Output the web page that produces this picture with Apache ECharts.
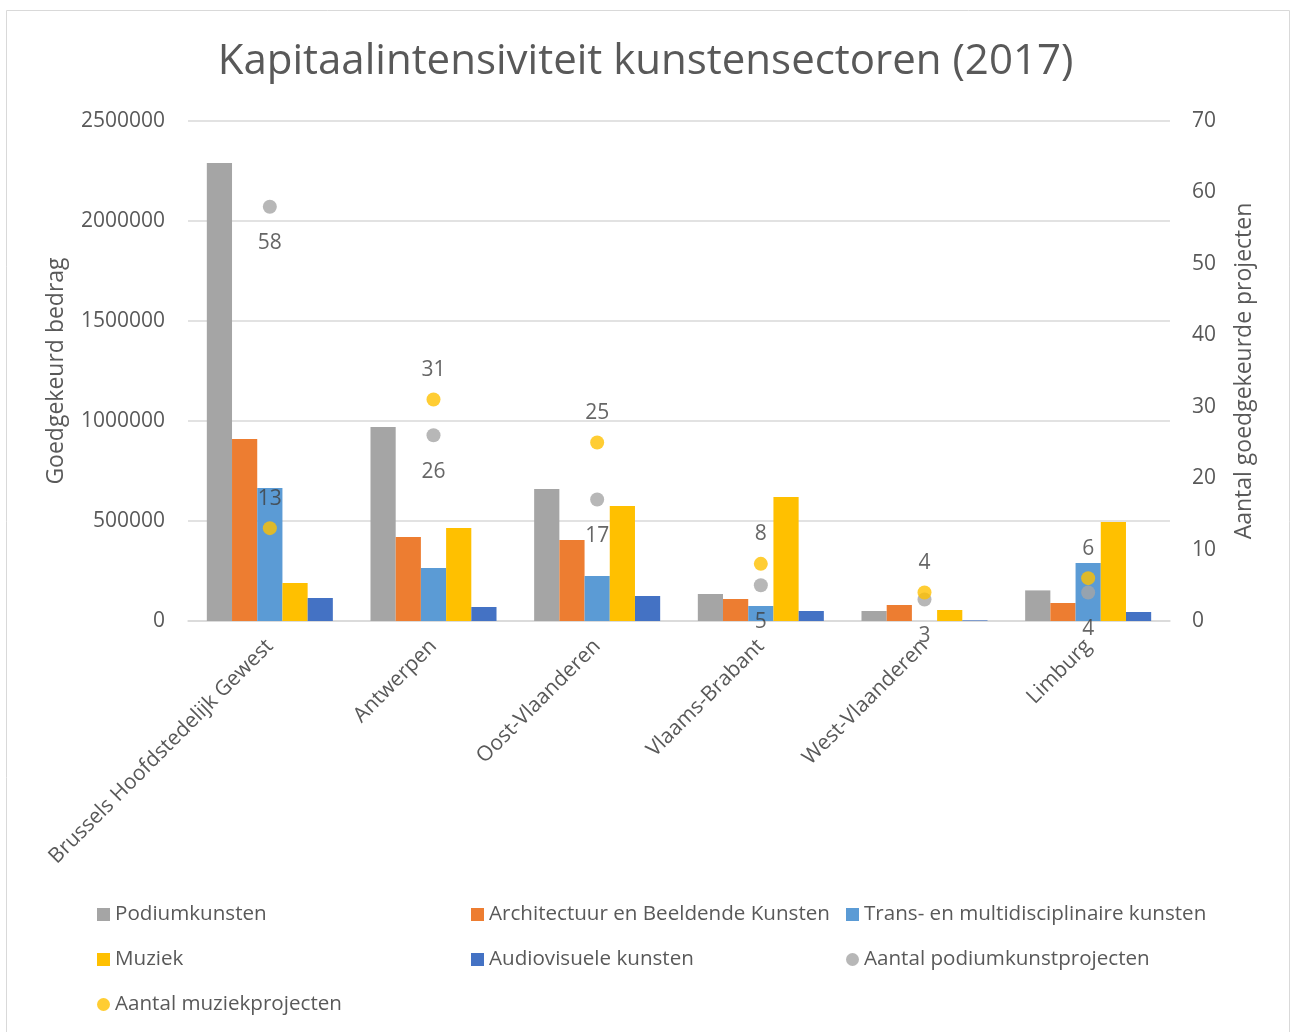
<!DOCTYPE html>
<html><head><meta charset="utf-8">
<script src="https://cdn.jsdelivr.net/npm/echarts@6/dist/echarts.min.js"></script>
<style>html,body{margin:0;padding:0;background:#fff}#c{width:1291px;height:1032px}</style>
</head><body><div id="c"></div>
<script>
const categories = ['Brussels Hoofdstedelijk Gewest','Antwerpen','Oost-Vlaanderen','Vlaams-Brabant','West-Vlaanderen','Limburg'];
const podiumkunsten = [2290000, 970000, 660000, 135000, 50000, 153000];
const architectuur = [910000, 420000, 405000, 110000, 80000, 90000];
const trans = [665000, 265000, 225000, 75000, 0, 290000];
const muziek = [190000, 465000, 575000, 620000, 55000, 495000];
const audiovisueel = [115000, 70000, 125000, 50000, 3000, 45000];
const aantalPodium = [58, 26, 17, 5, 3, 4];
const aantalMuziek = [13, 31, 25, 8, 4, 6];

const FONT = '"Open Sans", "Noto Sans", sans-serif';
const TXT = '#595959';
const chart = echarts.init(document.getElementById('c'));
const bar = (name, data, color) => ({
  name, type: 'bar', data, yAxisIndex: 0, itemStyle: {color},
  barGap: '0%', barCategoryGap: '23%'
});
const legendBase = {orient: 'vertical', itemWidth: 13, itemHeight: 13, itemGap: 24,
  textStyle: {fontFamily: FONT, fontSize: 20.6, color: TXT}, top: 899};
chart.setOption({
  animation: false,
  textStyle: {fontFamily: FONT},
  graphic: [{type: 'rect', shape: {x: 6.5, y: 10.5, width: 1283, height: 1030},
    style: {fill: 'none', stroke: '#d9d9d9', lineWidth: 1}}],
  title: {text: 'Kapitaalintensiviteit kunstensectoren (2017)', left: 'center', top: 36,
    textStyle: {fontFamily: FONT, fontSize: 42, fontWeight: 'normal', color: TXT}},
  grid: {left: 188, right: 121, top: 121, bottom: 411},
  legend: [
    Object.assign({}, legendBase, {left: 92, data: [
      {name: 'Podiumkunsten', icon: 'rect'}, {name: 'Muziek', icon: 'rect'}, {name: 'Aantal muziekprojecten', icon: 'circle'}]}),
    Object.assign({}, legendBase, {left: 466, data: [
      {name: 'Architectuur en Beeldende Kunsten', icon: 'rect'}, {name: 'Audiovisuele kunsten', icon: 'rect'}]}),
    Object.assign({}, legendBase, {left: 841, data: [
      {name: 'Trans- en multidisciplinaire kunsten', icon: 'rect'}, {name: 'Aantal podiumkunstprojecten', icon: 'circle'}]})
  ],
  xAxis: {type: 'category', data: categories,
    axisLine: {lineStyle: {color: '#d9d9d9', width: 1.5}}, axisTick: {show: false},
    axisLabel: {rotate: 45, interval: 0, fontSize: 21, color: TXT, fontFamily: FONT, margin: 22}},
  yAxis: [
    {type: 'value', min: 0, max: 2500000, interval: 500000,
      name: 'Goedgekeurd bedrag', nameLocation: 'middle', nameGap: 120, nameRotate: 90,
      nameTextStyle: {fontSize: 23, color: TXT, fontFamily: FONT},
      axisLabel: {fontSize: 21, color: TXT, fontFamily: FONT, margin: 23, formatter: v => String(v)},
      axisLine: {show: false}, axisTick: {show: false},
      splitLine: {lineStyle: {color: '#d9d9d9', width: 1.5}}},
    {type: 'value', min: 0, max: 70, interval: 10, position: 'right',
      name: 'Aantal goedgekeurde projecten', nameLocation: 'middle', nameGap: 63, nameRotate: 90,
      nameTextStyle: {fontSize: 23, color: TXT, fontFamily: FONT},
      axisLabel: {fontSize: 21, color: TXT, fontFamily: FONT, margin: 22},
      axisLine: {show: false}, axisTick: {show: false}, splitLine: {show: false}}
  ],
  series: [
    bar('Podiumkunsten', podiumkunsten, '#a5a5a5'),
    bar('Architectuur en Beeldende Kunsten', architectuur, '#ed7d31'),
    bar('Trans- en multidisciplinaire kunsten', trans, '#5b9bd5'),
    bar('Muziek', muziek, '#ffc000'),
    bar('Audiovisuele kunsten', audiovisueel, '#4472c4'),
    {name: 'Aantal podiumkunstprojecten', type: 'scatter', yAxisIndex: 1, data: aantalPodium,
      symbolSize: 14, itemStyle: {color: '#a5a5a5'},
      label: {show: true, position: 'bottom', distance: 19, fontSize: 21, color: '#404040', fontFamily: FONT}},
    {name: 'Aantal muziekprojecten', type: 'scatter', yAxisIndex: 1, data: aantalMuziek,
      symbolSize: 14, itemStyle: {color: '#ffc000'},
      label: {show: true, position: 'top', distance: 12, fontSize: 21, color: '#404040', fontFamily: FONT}}
  ]
});
</script></body></html>
